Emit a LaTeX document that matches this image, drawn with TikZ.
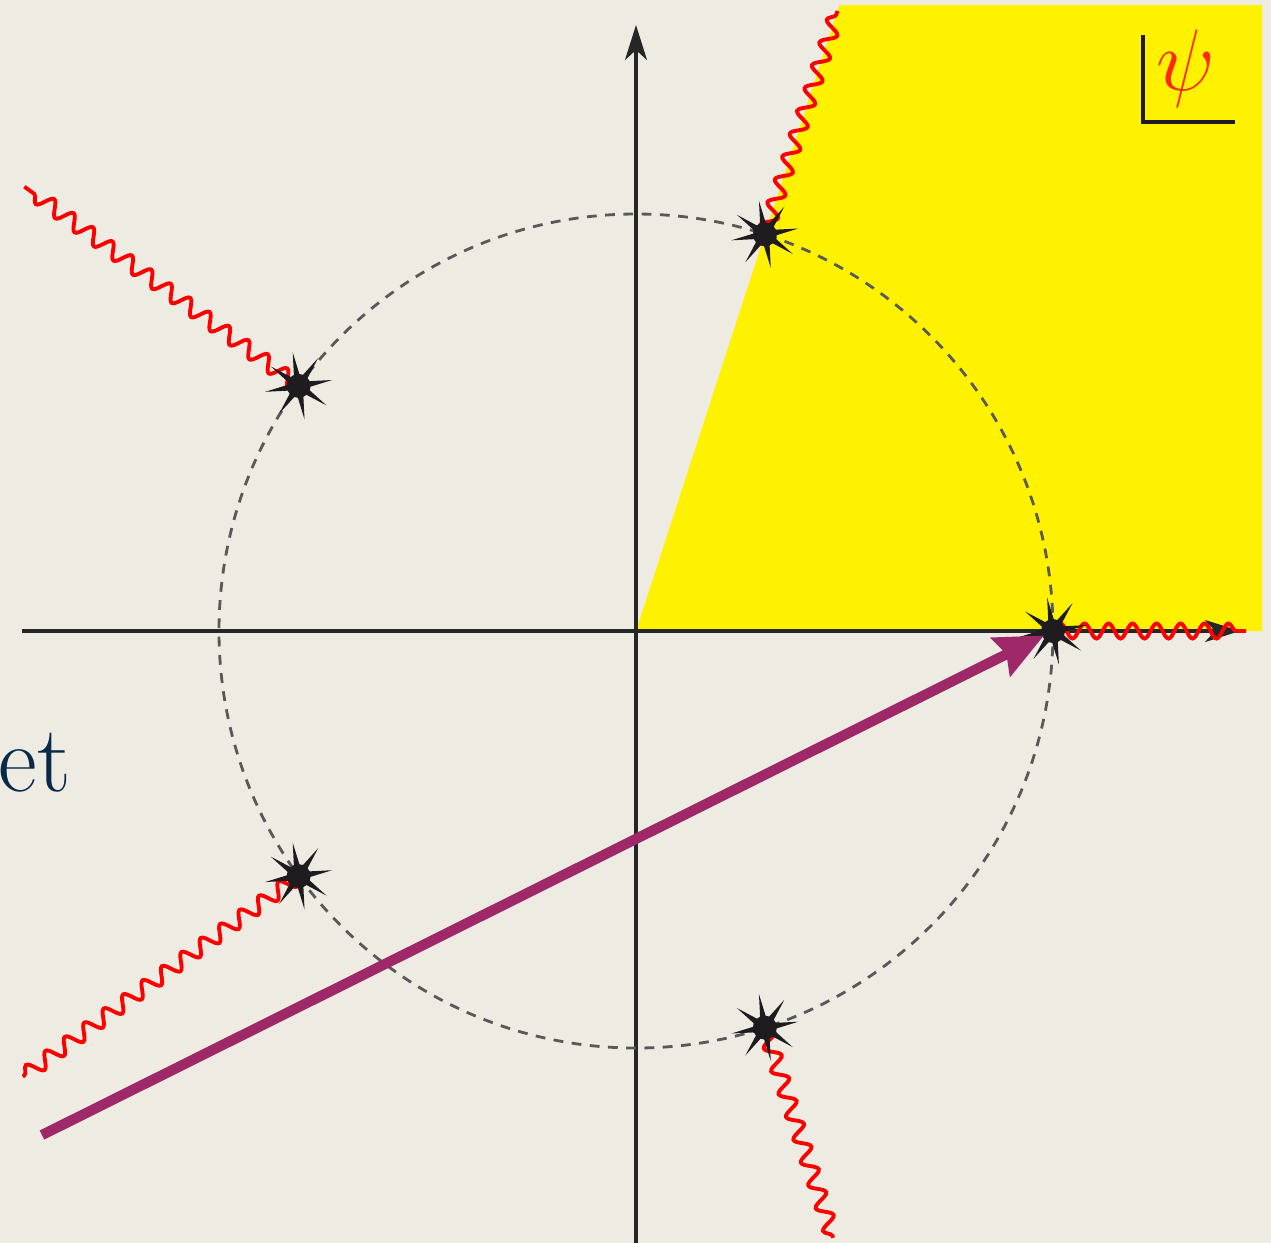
\documentclass[tikz,border=0pt]{standalone}
\usetikzlibrary{shapes.geometric,decorations.pathmorphing,arrows.meta}
\definecolor{paper}{RGB}{238,236,226}
\definecolor{plum}{RGB}{158,40,104}
\definecolor{ink}{RGB}{8,42,72}
\definecolor{spot}{RGB}{30,28,30}
\definecolor{psired}{RGB}{255,40,0}
\begin{document}
\begin{tikzpicture}[
		burst/.style={star, star points=8, star point ratio=4, minimum size=6.8mm, inner sep=0pt, fill=spot, shape border rotate=10},
		wave/.style={red, line width=1.1pt, decorate, decoration={snake, segment length=2.4mm, amplitude=0.75mm}},
		axis/.style={line width=0.9pt, black!85, -{Stealth[length=3.5mm,width=2.2mm,inset=1mm]}}]

	% background and frame of the page
	\fill[paper] (-6.36,-6.12) rectangle (6.35,6.31);
	\useasboundingbox (-6.36,-6.12) rectangle (6.35,6.31);

	% sector
	\fill[yellow] (0,0) -- (72:6.58) -- (6.26,6.26) -- (6.26,0) -- cycle;

	\node[ink, anchor=base west, inner sep=0pt, font=\fontsize{27}{27}\selectfont] (word) at (-6.38,-1.6) {et};

	% axes
	\coordinate (xl) at (-6.14,0); \coordinate (xr) at (6.04,0);
	\coordinate (yb) at (0,-6.12); \coordinate (yt) at (0,6.06);
	\draw[axis] (xl) -- (xr);
	\draw[axis] (yb) -- (yt);

	\draw[black!65, line width=0.8pt, dash pattern=on 2.8pt off 2.4pt] (0,0) circle (4.17);

	% roots and cuts
	\foreach \i/\ang/\r in {0/0/6.1, 1/72/6.52, 2/144/7.56, 3/216/7.58, 4/288/6.38} {
			\coordinate (p\i) at (\ang:4.17);
			\coordinate (w\i) at (\ang:\r);
			\draw[wave] (p\i) -- (w\i);
		}
	\foreach \i in {0,...,4} {
			\node[burst] (s\i) at (p\i) {};
			\fill[spot] (s\i.center) circle (1.2mm);
		}

	\coordinate (tail) at (-5.94,-5.04);
	\draw[plum, line width=2.9pt, shorten >=1mm, -{Stealth[length=4.8mm,width=4.2mm,inset=0.6mm]}] (tail) -- (s0.center);

	% label of the plane
	\coordinate (c1) at (5.07,5.96); \coordinate (c2) at (5.07,5.09); \coordinate (c3) at (5.99,5.09);
	\draw[spot, line width=0.9pt] (c1) -- (c2) -- (c3);
	\node[psired, font=\fontsize{40}{40}\selectfont] (psi) at (5.5,5.62) {$\psi$};
\end{tikzpicture}
\end{document}
